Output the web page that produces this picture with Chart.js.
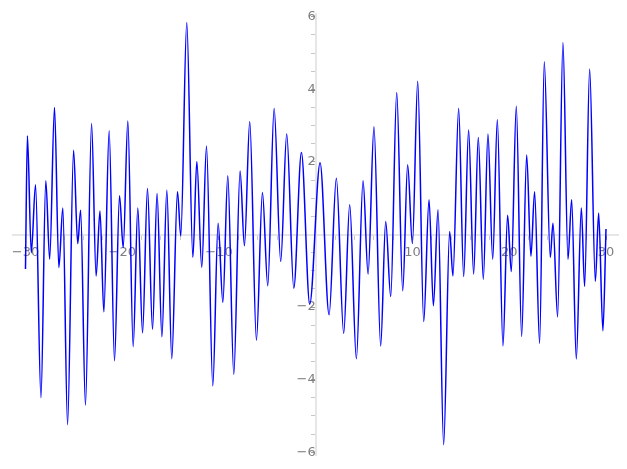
<!DOCTYPE html>
<html>
<head>
<meta charset="utf-8">
<script src="https://cdn.jsdelivr.net/npm/chart.js@4/dist/chart.umd.min.js"></script>
<style>
html,body{margin:0;padding:0;background:#fff;}
#c{display:block;}
</style>
</head>
<body>
<canvas id="c" width="627" height="469"></canvas>
<script>
const xValues = [-30, -29.8, -29.4, -28.96, -28.4, -27.9, -27.5, -27.0, -26.55, -26.14, -25.65, -25.03, -24.6, -24.3, -23.8, -23.17,
  -22.7, -22.3, -21.9, -21.35, -20.8, -20.28, -19.9, -19.42, -18.87, -18.39, -17.9, -17.39, -16.87, -16.4, -15.9, -15.39,
  -14.88, -14.29, -13.95, -13.33, -12.7, -12.29, -11.78, -11.29, -10.64, -10.09, -9.6, -9.09, -8.47, -7.82,
  -7.37, -6.82, -6.13, -5.51, -4.96, -4.3, -3.62, -3.0, -2.27, -1.48, -0.62,
  0.45, 1.38, 2.13, 2.89, 3.51, 4.2, 4.89, 5.41, 6.02, 6.71, 7.23, 7.75,
  8.37, 8.99, 9.5, 9.99, 10.54, 11.16, 11.71, 12.16, 12.64, 13.22, 13.84, 14.18, 14.77, 15.29, 15.8,
  16.32, 16.8, 17.32, 17.8, 18.29, 18.77, 19.35, 19.83, 20.21, 20.73, 21.28, 21.8, 22.24, 22.62, 23.14, 23.62,
  24.24, 24.52, 25.0, 25.55, 26.07, 26.45, 26.93, 27.45, 27.79, 28.31, 28.9, 29.24, 29.68, 30];
const yValues = [-0.95, 2.72, -0.50, 1.37, -4.5, 1.48, -0.68, 3.5, -0.91, 0.73, -5.24, 2.32, -0.25, 0.67, -4.7, 3.06,
  -1.14, 0.65, -2.13, 2.86, -3.48, 1.07, -0.36, 3.13, -3.09, 0.73, -2.71, 1.27, -2.61, 1.13, -2.82, 1.22,
  -3.42, 1.18, -0.04, 5.84, -0.63, 2.01, -0.91, 2.44, -4.17, 0.31, -1.87, 1.62, -3.85, 1.75,
  -0.31, 3.11, -2.91, 1.16, -1.41, 3.47, -0.74, 2.77, -1.48, 2.26, -1.92,
  1.98, -2.21, 1.55, -2.72, 0.82, -3.42, 1.48, -1.09, 2.97, -3.07, 0.36, -1.71,
  3.91, -1.55, 1.92, -0.25, 4.22, -2.4, 0.96, -1.96, 0.68, -5.79, 0.08, -1.14, 3.47, -1.16, 2.88,
  -1.09, 2.67, -1.23, 2.77, -0.68, 3.16, -3.07, 0.53, -1.02, 3.53, -2.81, 2.19, -0.6, 1.18, -3.0, 4.76,
  -0.63, 0.31, -2.27, 5.29, -0.68, 0.96, -3.43, 0.73, -1.43, 4.56, -1.29, 0.59, -2.65, 0.15];
const xTickValues = [-30,-28,-26,-24,-22,-20,-18,-16,-14,-12,-10,-8,-6,-4,-2,0,2,4,6,8,10,12,14,16,18,20,22,24,26,28,30];
const xTickLabels = [-30,-20,-10,10,20,30];
const yTickValues = [-6,-5.5,-5,-4.5,-4,-3.5,-3,-2.5,-2,-1.5,-1,-0.5,0,0.5,1,1.5,2,2.5,3,3.5,4,4.5,5,5.5,6];
const yTickLabels = [-6,-4,-2,2,4,6];

const fmt = v => (v < 0 ? '\u2212' + Math.abs(v) : String(v));
const points = xValues.map((x, i) => ({x: x, y: yValues[i]}));

new Chart(document.getElementById('c'), {
  type: 'line',
  data: {
    datasets: [{
      data: points,
      borderColor: '#0000ff',
      borderWidth: 1.5,
      pointRadius: 0,
      fill: false,
      cubicInterpolationMode: 'monotone'
    }]
  },
  options: {
    responsive: false,
    animation: false,
    events: [],
    layout: {padding: {left: 13, right: 9, top: 5, bottom: 7}},
    plugins: {legend: {display: false}, tooltip: {enabled: false}},
    scales: {
      x: {
        type: 'linear',
        position: {y: 0},
        min: -31.29,
        max: 31.24,
        afterBuildTicks: s => { s.ticks = xTickValues.map(v => ({value: v})); },
        grid: {
          drawOnChartArea: false,
          drawTicks: true,
          tickLength: 4,
          tickColor: ctx => (ctx.tick && xTickLabels.includes(ctx.tick.value)) ? '#a0a0a0' : '#c8c8c8',
          tickWidth: 1
        },
        border: {display: true, color: '#e6e6e6', width: 2},
        ticks: {
          autoSkip: false,
          maxRotation: 0,
          padding: 6,
          color: '#808080',
          font: {family: 'DejaVu Sans', size: 13},
          callback: v => xTickLabels.includes(v) ? fmt(v) : ''
        }
      },
      y: {
        type: 'linear',
        position: {x: 0},
        min: -6.08,
        max: 6.08,
        afterBuildTicks: s => { s.ticks = yTickValues.map(v => ({value: v})); },
        grid: {
          drawOnChartArea: false,
          drawTicks: true,
          tickLength: 4,
          tickColor: ctx => (ctx.tick && Number.isInteger(ctx.tick.value / 2)) ? '#a0a0a0' : '#c8c8c8',
          tickWidth: 1
        },
        border: {display: true, color: '#e6e6e6', width: 2},
        ticks: {
          autoSkip: false,
          padding: 6,
          color: '#808080',
          font: {family: 'DejaVu Sans', size: 13},
          callback: v => yTickLabels.includes(v) ? fmt(v) : ''
        }
      }
    }
  }
});
</script>
</body>
</html>
